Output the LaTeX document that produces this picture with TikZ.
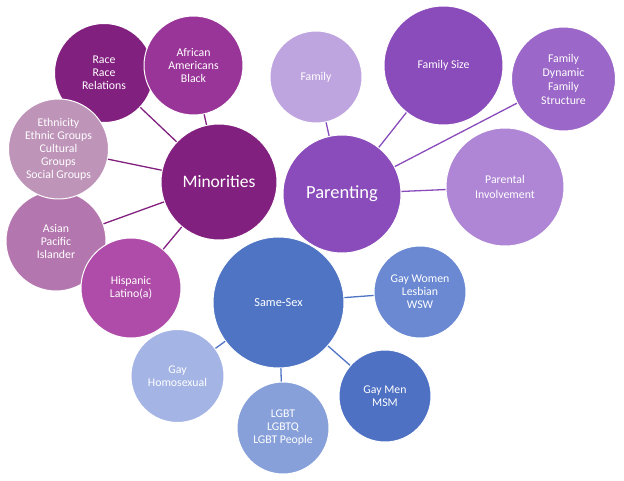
\documentclass[tikz,border=0pt]{standalone}
\usepackage{fontspec}
\setmainfont{Carlito}
\definecolor{cMin}{HTML}{82207F}
\definecolor{cAfr}{HTML}{993598}
\definecolor{cEth}{HTML}{BE94B9}
\definecolor{cAsi}{HTML}{B376AE}
\definecolor{cHis}{HTML}{AF4BA8}
\definecolor{cPar}{HTML}{8A4BBB}
\definecolor{cFam}{HTML}{BFA5DF}
\definecolor{cDyn}{HTML}{9B67C8}
\definecolor{cInv}{HTML}{AE86D5}
\definecolor{cSS}{HTML}{4F74C4}
\definecolor{cGW}{HTML}{6A89D2}
\definecolor{cGM}{HTML}{4E71C3}
\definecolor{cLG}{HTML}{87A0DA}
\definecolor{cGay}{HTML}{A4B4E5}
\tikzset{
  bub/.style={circle, draw=white, line width=1pt, inner sep=0pt, align=center,
    text=white, font=\fontsize{11.8}{13}\selectfont},
  link/.style={line width=1.3pt},
}
\begin{document}
\begin{tikzpicture}[x=1pt,y=-1pt]
\useasboundingbox (0,0) rectangle (624,481);
% Minorities group
\node[bub, fill=cMin, minimum size=116pt, font=\fontsize{17.5}{19}\selectfont] (min) at (219,182) {Minorities};
\node[bub, fill=cMin, minimum size=99pt] (race) at (104,73) {Race\\Race\\Relations};
\node[bub, fill=cAfr, minimum size=99pt] (afr) at (193.5,65.5) {African\\Americans\\Black};
\node[bub, fill=cAsi, minimum size=100pt] (asi) at (56,241) {Asian\\Pacific\\Islander};
\node[bub, fill=cEth, minimum size=100pt] (eth) at (58.5,149) {Ethnicity\\Ethnic Groups\\Cultural\\Groups\\Social Groups};
\node[bub, fill=cHis, minimum size=100pt] (his) at (131,288) {Hispanic\\Latino(a)};
% Parenting group
\node[bub, fill=cPar, minimum size=118pt, font=\fontsize{18.5}{20}\selectfont] (par) at (342,194) {Parenting};
\node[bub, fill=cFam, minimum size=92pt] (fam) at (316,77) {Family};
\node[bub, fill=cPar, minimum size=119pt] (fsz) at (443.5,65.5) {Family Size};
\node[bub, fill=cDyn, minimum size=104pt, font=\fontsize{11.8}{14}\selectfont] (dyn) at (563.5,79) {Family\\Dynamic\\Family\\Structure};
\node[bub, fill=cInv, minimum size=118pt, font=\fontsize{11.8}{14.5}\selectfont] (inv) at (505,187) {Parental\\Involvement};
% Same-Sex group
\node[bub, fill=cSS, minimum size=131pt, font=\fontsize{12.3}{14}\selectfont] (ss) at (278.5,302.5) {Same-Sex};
\node[bub, fill=cGW, minimum size=92pt] (gw) at (420,292) {Gay Women\\Lesbian\\WSW};
\node[bub, fill=cGM, minimum size=92pt] (gm) at (385,396) {Gay Men\\MSM};
\node[bub, fill=cLG, minimum size=92pt] (lg) at (283,428) {LGBT\\LGBTQ\\LGBT People};
\node[bub, fill=cGay, minimum size=93pt] (gay) at (177.5,376) {Gay\\Homosexual};
% connectors
\draw[link, draw=cMin] (min) -- (race);
\draw[link, draw=cMin] (min) -- (afr);
\draw[link, draw=cMin] (min) -- (eth);
\draw[link, draw=cMin] (min) -- (asi);
\draw[link, draw=cMin] (min) -- (his);
\draw[link, draw=cPar] (par) -- (fam);
\draw[link, draw=cPar] (par) -- (fsz);
\draw[link, draw=cPar] (par) -- (dyn);
\draw[link, draw=cPar] (par) -- (inv);
\draw[link, draw=cSS] (ss) -- (gw);
\draw[link, draw=cSS] (ss) -- (gm);
\draw[link, draw=cSS] (ss) -- (lg);
\draw[link, draw=cSS] (ss) -- (gay);
\end{tikzpicture}
\end{document}
